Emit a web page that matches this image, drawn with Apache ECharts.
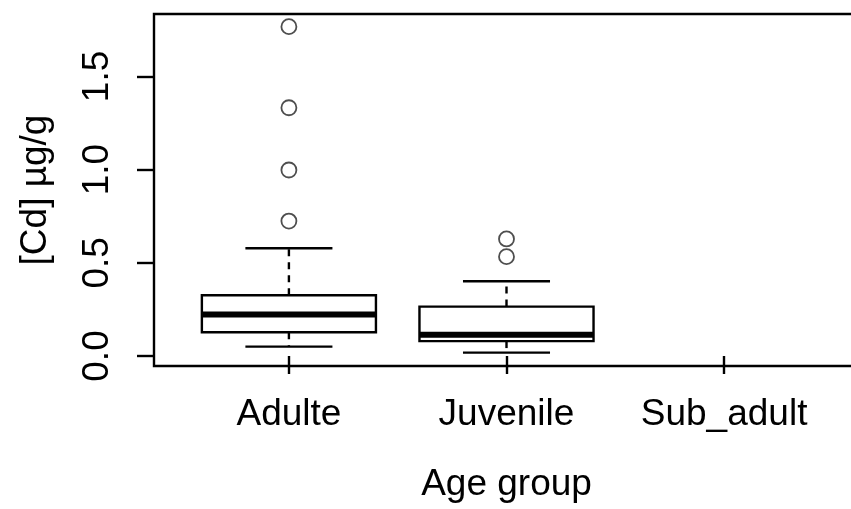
<!DOCTYPE html>
<html>
<head>
<meta charset="utf-8">
<script src="https://cdn.jsdelivr.net/npm/echarts@6/dist/echarts.min.js"></script>
<style>html,body{margin:0;padding:0;background:#fff;}#c{width:851px;height:509px;}</style>
</head>
<body>
<div id="c"></div>
<script>
// ---- data ----
var categories = ['Adulte', 'Juvenile', 'Sub_adult'];
var whiskerLow  = [0.050, 0.018, null];
var q1          = [0.127, 0.080, null];
var median      = [0.222, 0.114, null];
var q3          = [0.326, 0.265, null];
var whiskerHigh = [0.578, 0.401, null];
var outliersAdulte   = [1.767, 1.332, 0.998, 0.724];
var outliersJuvenile = [0.628, 0.533];
var yTicks = [0, 0.5, 1.0, 1.5];
var xLabel = 'Age group';
var yLabel = '[Cd] µg/g';

// ---- build series data ----
var boxData = [];
for (var i = 0; i < categories.length; i++) {
  if (median[i] === null) continue;
  boxData.push([i + 1, whiskerLow[i], q1[i], median[i], q3[i], whiskerHigh[i]]);
}
var outlierData = [];
outliersAdulte.forEach(function (v) { outlierData.push([1, v]); });
outliersJuvenile.forEach(function (v) { outlierData.push([2, v]); });

var FONT = 'Liberation Sans, Arial, sans-serif';
var chart = echarts.init(document.getElementById('c'));

function renderBox(params, api) {
  var x = api.value(0);
  var lo = api.coord([x, api.value(1)]);
  var b1 = api.coord([x, api.value(2)]);
  var md = api.coord([x, api.value(3)]);
  var b3 = api.coord([x, api.value(4)]);
  var hi = api.coord([x, api.value(5)]);
  var boxW = api.size([0.8, 0])[0];
  var capW = api.size([0.4, 0])[0];
  var cx = md[0];
  var thin = { stroke: '#000', lineWidth: 2.4, fill: null };
  var dashed = { stroke: '#000', lineWidth: 2.4, lineDash: [7, 6], fill: null };
  return {
    type: 'group',
    children: [
      { type: 'line', shape: { x1: cx, y1: b3[1], x2: cx, y2: hi[1] }, style: dashed },
      { type: 'line', shape: { x1: cx, y1: b1[1], x2: cx, y2: lo[1] }, style: dashed },
      { type: 'line', shape: { x1: cx - capW / 2, y1: hi[1], x2: cx + capW / 2, y2: hi[1] }, style: thin },
      { type: 'line', shape: { x1: cx - capW / 2, y1: lo[1], x2: cx + capW / 2, y2: lo[1] }, style: thin },
      { type: 'rect', shape: { x: cx - boxW / 2, y: b3[1], width: boxW, height: b1[1] - b3[1] },
        style: { fill: '#fff', stroke: '#000', lineWidth: 2.4 } },
      { type: 'line', shape: { x1: cx - boxW / 2, y1: md[1], x2: cx + boxW / 2, y2: md[1] },
        style: { stroke: '#000', lineWidth: 6 } }
    ]
  };
}

chart.setOption({
  animation: false,
  backgroundColor: '#fff',
  grid: { left: 154, top: 14, width: 705, height: 352, show: true,
          outerBoundsMode: 'none', containLabel: false,
          borderColor: '#000', borderWidth: 2.4, backgroundColor: 'transparent' },
  xAxis: {
    type: 'value', min: 0.38, max: 3.62,
    name: xLabel, nameLocation: 'middle', nameGap: 100,
    nameTextStyle: { fontFamily: FONT, fontSize: 37, color: '#000' },
    axisLine: { show: false },
    splitLine: { show: false },
    axisTick: { show: true, inside: false, length: 18, customValues: [1, 2, 3],
                lineStyle: { color: '#000', width: 2.4 } },
    axisLabel: { customValues: [1, 2, 3], margin: 30, fontFamily: FONT, fontSize: 37, color: '#000',
                 formatter: function (v) { return categories[Math.round(v) - 1]; } }
  },
  yAxis: {
    type: 'value', min: -0.0537, max: 1.835,
    name: yLabel, nameLocation: 'middle', nameGap: 100, nameRotate: 90,
    nameTextStyle: { fontFamily: FONT, fontSize: 37, color: '#000' },
    axisLine: { show: false },
    splitLine: { show: false },
    axisTick: { show: true, inside: false, length: 17, customValues: yTicks,
                lineStyle: { color: '#000', width: 2.4 } },
    axisLabel: { customValues: yTicks, rotate: 90, margin: 38, fontFamily: FONT, fontSize: 37, color: '#000',
                 formatter: function (v) { return v.toFixed(1); } }
  },
  series: [
    { type: 'custom', renderItem: renderBox, data: boxData, clip: false },
    { type: 'scatter', data: outlierData, symbol: 'circle', symbolSize: 15,
      itemStyle: { color: '#fff', borderColor: '#222', borderWidth: 1.8 } }
  ]
});
</script>
</body>
</html>
